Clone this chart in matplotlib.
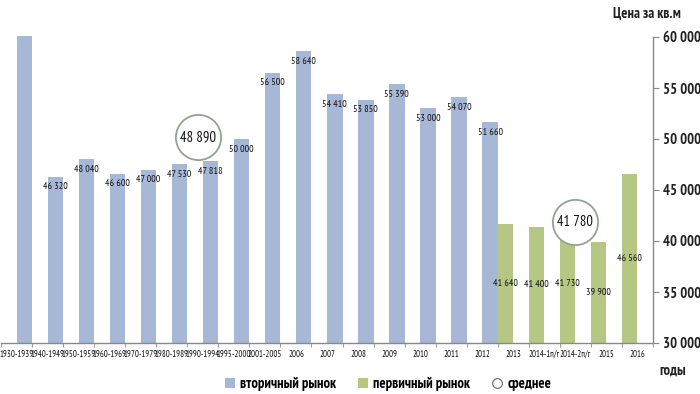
import matplotlib
matplotlib.use("Agg")
import matplotlib.pyplot as plt
from matplotlib.lines import Line2D
from matplotlib.patches import Patch
from matplotlib.ticker import FuncFormatter

plt.rcParams["font.family"] = ["PT Sans Narrow", "Liberation Sans", "DejaVu Sans"]

categories = ["1930-1939", "1940-1949", "1950-1959", "1960-1969", "1970-1979",
              "1980-1989", "1990-1994", "1995-2000", "2001-2005", "2006", "2007",
              "2008", "2009", "2010", "2011", "2012", "2013", "2014-1п/г",
              "2014-2п/г", "2015", "2016"]
# вторичный рынок (None = нет данных)
secondary = [60140, 46320, 48040, 46600, 47000, 47530, 47818, 50000, 56500, 58640,
             54410, 53850, 55390, 53000, 54070, 51660, None, None, None, None, None]
# первичный рынок
primary = [None] * 16 + [41640, 41400, 41730, 39900, 46560]
# среднее: где стоит кружок (категория, высота) и его значение
avg_x = [5.85, 18.0]
avg_pos = [50200, 41900]
avg_val = [48890, 41780]

BLUE = "#a7b7d6"
GREEN = "#b5c783"
RING = "#8fa592"
Y0, Y1 = 30000, 60000


def _fmt(v, _=None):
    return f"{int(v):,}".replace(",", " ")


fig = plt.figure(figsize=(7.0, 3.94), dpi=100)
ax = fig.add_axes([1 / 700, 51 / 394, 652 / 700, 306 / 394])

for i, v in enumerate(secondary):
    if v is None:
        continue
    ax.bar(i + 0.25, v - Y0, bottom=Y0, width=0.5, color=BLUE, clip_on=False, zorder=2)
    ax.annotate(_fmt(v), (i + 0.25, v), xytext=(0, -7.3), textcoords="offset points",
                ha="center", va="center", fontsize=7.2, color="#111111", zorder=4)
for i, v in enumerate(primary):
    if v is None:
        continue
    ax.bar(i - 0.25, v - Y0, bottom=Y0, width=0.5, color=GREEN, clip_on=False, zorder=2)
    ax.text(i - 0.25, (v + Y0) / 2, _fmt(v), ha="center", va="center",
            fontsize=7.2, color="#111111", zorder=4)

for x, p, v in zip(avg_x, avg_pos, avg_val):
    ax.scatter([x], [p], s=1060, facecolor="white", edgecolor=RING, linewidth=1.3,
               zorder=5, clip_on=False)
    ax.text(x, p, _fmt(v), ha="center", va="center", fontsize=10.5,
            color="#111111", zorder=6)

ax.set_xlim(-0.5, len(categories) - 0.5)
ax.set_ylim(Y0, Y1)
ax.set_xticks(range(len(categories)))
ax.set_xticklabels(categories, fontsize=6.3, color="#111111")
ax.set_xticks([i + 0.5 for i in range(-1, len(categories))], minor=True)
ax.tick_params(axis="x", which="major", length=0, pad=5)
ax.tick_params(axis="x", which="minor", length=3, color="#888888", direction="out")

ax.yaxis.tick_right()
ax.set_yticks(range(Y0, Y1 + 1, 5000))
ax.yaxis.set_major_formatter(FuncFormatter(_fmt))
ax.tick_params(axis="y", length=4, color="#888888", pad=3, labelsize=10.5)
for t in ax.get_yticklabels():
    t.set_fontweight("bold")
    t.set_color("#222222")

for s in ("left", "top"):
    ax.spines[s].set_visible(False)
for s in ("right", "bottom"):
    ax.spines[s].set_color("#888888")
    ax.spines[s].set_linewidth(1.0)

fig.text(647 / 700, 1 - 14 / 394, "Цена за кв.м", ha="center", va="center",
         fontsize=10.5, fontweight="bold", color="#222222")
fig.text(673 / 700, 1 - 371 / 394, "годы", ha="center", va="center",
         fontsize=10.5, fontweight="bold", color="#222222")

handles = [Patch(facecolor=BLUE, edgecolor="none"),
           Patch(facecolor=GREEN, edgecolor="none"),
           Line2D([], [], ls="none", marker="o", markersize=7, markerfacecolor="white",
                  markeredgecolor="#777777", markeredgewidth=0.9)]
fig.legend(handles, ["вторичный рынок", "первичный рынок", "среднее"],
           loc="center", bbox_to_anchor=(388 / 700, 1 - 384 / 394), ncol=3,
           frameon=False, prop={"size": 10.5, "weight": "bold"},
           handlelength=0.7, handleheight=0.7, handletextpad=0.35, columnspacing=1.5,
           borderpad=0)

fig.savefig("out.png", dpi=100)
